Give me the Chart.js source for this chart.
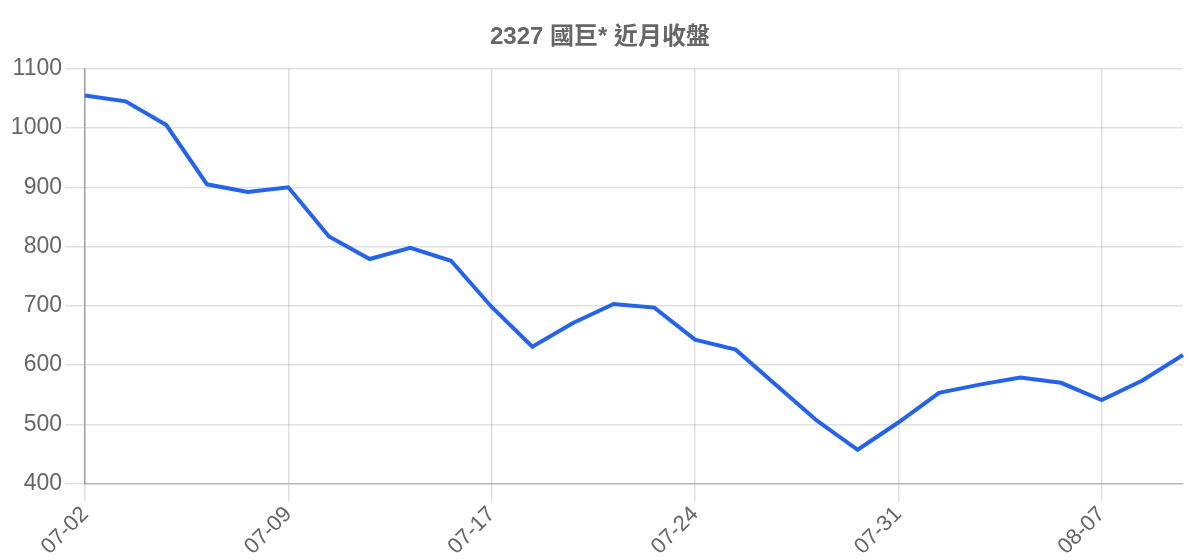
<!DOCTYPE html>
<html>
<head>
<meta charset="utf-8">
<script src="https://cdn.jsdelivr.net/npm/chart.js@4"></script>
<style>
  html, body { margin: 0; padding: 0; background: #fff; }
  #wrap { width: 1200px; height: 560px; position: relative; }
</style>
</head>
<body>
<div id="wrap"><canvas id="c"></canvas></div>
<script>
const titleText = '2327 國巨* 近月收盤';
const dates = ['07-02','07-03','07-04','07-07','07-08','07-09','07-10','07-11','07-14','07-15',
               '07-17','07-18','07-21','07-22','07-23','07-24','07-25','07-28','07-29','07-30',
               '07-31','08-01','08-04','08-05','08-06','08-07','08-08','08-11'];
const closes = [1055,1045,1005,905,892,900,817,779,798,776,
                698,631,671,703,697,643,626,566,506,457,
                503,553,567,579,570,541,574,617];
const yMin = 400, yMax = 1100, yStep = 100;
const labelEvery = 5;

const fontFamily = "'Liberation Sans', Arial, 'Noto Sans CJK TC', sans-serif";

const centerTitle = {
  id: 'centerTitle',
  afterLayout(chart) {
    if (chart.titleBlock) {
      chart.titleBlock.left = 0;
      chart.titleBlock.right = chart.width;
    }
  }
};

new Chart(document.getElementById('c'), {
  type: 'line',
  data: {
    labels: dates,
    datasets: [{
      label: '收盤',
      data: closes,
      borderColor: 'rgb(37,99,235)',
      backgroundColor: 'rgb(37,99,235)',
      borderWidth: 4,
      pointRadius: 0,
      tension: 0,
      fill: false
    }]
  },
  plugins: [centerTitle],
  options: {
    responsive: true,
    maintainAspectRatio: false,
    animation: false,
    devicePixelRatio: 1,
    layout: { padding: { left: 7, right: 17, top: 0, bottom: 0 } },
    plugins: {
      legend: { display: false },
      tooltip: { enabled: false },
      title: {
        display: true,
        text: titleText,
        color: '#666',
        font: { family: fontFamily, size: 24, weight: 'bold' },
        padding: { top: 23, bottom: 17 }
      }
    },
    scales: {
      x: {
        grid: { color: 'rgba(0,0,0,0.12)', lineWidth: 1.5, tickLength: 18 },
        border: { color: 'rgba(0,0,0,0.2)', width: 1.5 },
        ticks: {
          autoSkip: false,
          maxRotation: 45, minRotation: 45,
          color: '#666',
          font: { family: fontFamily, size: 22 },
          padding: 0,
          callback: function(val, idx) { return idx % labelEvery === 0 ? this.getLabelForValue(val) : null; }
        }
      },
      y: {
        min: yMin, max: yMax,
        afterFit: function(scale) { scale.width = 78; },
        grid: { color: 'rgba(0,0,0,0.12)', lineWidth: 1.5, tickLength: 20 },
        border: { color: 'rgba(0,0,0,0.3)', width: 1.5 },
        ticks: {
          stepSize: yStep,
          color: '#666',
          font: { family: fontFamily, size: 23 },
          padding: 3,
          callback: function(v) { return String(v); }
        }
      }
    }
  }
});
</script>
</body>
</html>
